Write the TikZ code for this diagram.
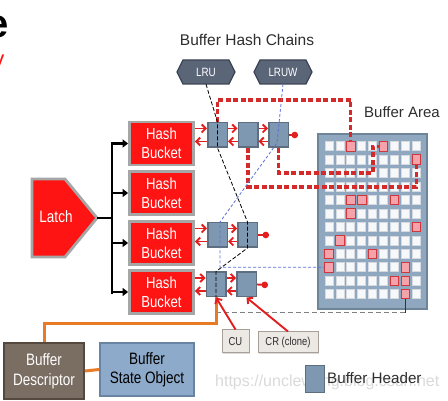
\documentclass[tikz,border=0pt]{standalone}
\usepackage{fontspec}
\setmainfont{Liberation Sans}
\newfontfamily\nfont{Liberation Sans}[FakeStretch=0.82]
\usetikzlibrary{arrows.meta,shadows}
\definecolor{bred}{HTML}{FF1414}
\definecolor{bgray}{HTML}{A6A6A6}
\definecolor{hdrf}{HTML}{7E98B2}
\definecolor{hdrb}{HTML}{5E6E7F}
\definecolor{hexf}{HTML}{5A6578}
\definecolor{hexb}{HTML}{3C4555}
\definecolor{panelf}{HTML}{8FA8BF}
\definecolor{panelb}{HTML}{6E8499}
\definecolor{cellf}{HTML}{F7F8FA}
\definecolor{cellb}{HTML}{D5DAE0}
\definecolor{pinkf}{HTML}{F5A3AA}
\definecolor{pinkb}{HTML}{D0363C}
\definecolor{rdash}{HTML}{D42A2A}
\definecolor{rarrow}{HTML}{E41E1E}
\definecolor{orng}{HTML}{E97A26}
\definecolor{descf}{HTML}{7A6D62}
\definecolor{descb}{HTML}{55493F}
\definecolor{statef}{HTML}{8EAACA}
\definecolor{stateb}{HTML}{6985A3}
\definecolor{cuf}{HTML}{ECE8E4}
\definecolor{cub}{HTML}{A8A098}
\definecolor{bluel}{HTML}{5A6FD8}
\definecolor{tgray}{HTML}{2E2E2E}
\definecolor{wmark}{HTML}{DADADA}
\begin{document}
\begin{tikzpicture}[x=1pt,y=-1pt,
  bucket/.style={draw=bgray,line width=2.8pt,fill=bred,minimum width=64pt,minimum height=43pt,inner sep=0pt,text=white,align=center,font=\nfont\fontsize{16}{19}\selectfont},
  hdr/.style={draw=hdrb,line width=1.5pt,fill=hdrf,minimum width=19.5pt,minimum height=24.5pt,inner sep=0pt},
  hexshape/.style={fill=hexf,draw=hexb,line width=1.2pt},
  hexlabel/.style={inner sep=0pt,minimum width=59pt,minimum height=24pt,text=white,font=\nfont\fontsize{12}{13}\selectfont},
  panel/.style={fill=panelf,draw=panelb,line width=2pt,minimum width=109pt,minimum height=175pt,inner sep=0pt},
  cell/.style={fill=cellf,draw=cellb,line width=0.5pt,minimum width=8pt,minimum height=9pt,inner sep=0pt},
  pcell/.style={fill=pinkf,draw=pinkb,line width=0.8pt,minimum width=8.5pt,minimum height=9.5pt,inner sep=0pt},
  redarr/.style={draw=rarrow,line width=1.9pt,-{Straight Barb[length=4pt,width=8pt]}},
  reddot/.style={draw=rarrow,line width=1.9pt,-{Circle[length=6.5pt,fill=rarrow]}},
  rdl/.style={draw=rdash,line width=3.2pt,dash pattern=on 5pt off 2.5pt},
  bline/.style={draw=black,line width=2.8pt},
  barrow/.style={draw=black,line width=2.8pt,-{Triangle[length=5.5pt,width=8pt]}},
  lrul/.style={draw=black,line width=0.8pt,dash pattern=on 4pt off 2pt},
  grayd/.style={draw=gray,line width=1pt,dash pattern=on 5pt off 3pt},
  lruwl/.style={draw=bluel,line width=0.8pt,dash pattern=on 3pt off 2pt},
  orl/.style={draw=orng,line width=3pt},
  boxtxt/.style={inner sep=0pt,align=center,font=\nfont\fontsize{16.5}{19.5}\selectfont},
  smallbox/.style={fill=cuf,draw=cub,line width=1pt,inner sep=0pt,text=tgray,font=\nfont\fontsize{11.5}{13}\selectfont,drop shadow={shadow xshift=1.2pt,shadow yshift=-1.2pt,fill=gray!55}}
]
\useasboundingbox (0,0) rectangle (448,401);
\clip (0,0) rectangle (448,401);
\fill[white] (0,0) rectangle (448,401);

% cut-off fragments
\node[anchor=base east,inner sep=0pt,font=\bfseries\fontsize{40}{40}\selectfont] (frage) at (8.5,38) {e};
\node[anchor=base east,inner sep=0pt,text=bred,font=\fontsize{22}{22}\selectfont] (fragv) at (4.5,67) {v};

% titles
\node[anchor=base,inner sep=0pt,text=tgray,font=\fontsize{15.5}{18}\selectfont] (title) at (247,46) {Buffer Hash Chains};
\node[anchor=base west,inner sep=0pt,text=tgray,font=\fontsize{15}{18}\selectfont] (areatitle) at (364,118) {Buffer Area};

% LRU / LRUW
\draw[hexshape] (177,72) -- (183,60) -- (229,60) -- (235,72) -- (229,84) -- (183,84) -- cycle;
\node[hexlabel] (lru) at (206,72) {LRU};
\draw[hexshape] (254,72) -- (260,60) -- (306,60) -- (312,72) -- (306,84) -- (260,84) -- cycle;
\node[hexlabel] (lruw) at (283,72) {LRUW};

% Latch
\draw[fill=bred,draw=bgray,line width=2.8pt] (32,179) -- (65,179) -- (97,218) -- (65,257) -- (32,257) -- cycle;
\node[inner sep=0pt,text=white,font=\nfont\fontsize{16.5}{19}\selectfont] (latch) at (56,217) {Latch};
\coordinate (latchtip) at (97,218);
\coordinate (trunk) at (112,218);
\coordinate (bartop) at (112,143);
\coordinate (barbot) at (112,293);

% buckets
\node[bucket] (b1) at (161.5,143.5) {Hash\\Bucket};
\node[bucket] (b2) at (161.5,193) {Hash\\Bucket};
\node[bucket] (b3) at (161.5,243) {Hash\\Bucket};
\node[bucket] (b4) at (161.5,292) {Hash\\Bucket};

\draw[bline] (latchtip) -- (trunk);
\draw[bline,line cap=rect] (bartop) -- (barbot);
\foreach \b in {b1,b2,b3,b4} \draw[barrow] (bartop |- \b.west) -- (\b.west);

% buffer area
\node[panel] (area) at (372.5,221.5) {};
\foreach \r in {0,...,11}
  \foreach \c in {0,...,8}
    \node[cell] (c-\r-\c) at ({328.8+\c*10.95},{146.2+\r*13.45}) {};

% buffer headers
\node[hdr] (h11) at (217.5,135) {};
\node[hdr] (h12) at (248,135) {};
\node[hdr] (h13) at (278.5,135) {};
\node[hdr] (h31) at (217.5,235) {};
\node[hdr] (h32) at (247.5,235) {};
\node[hdr] (h41) at (216,284.5) {};
\node[hdr] (h42) at (246.5,284.5) {};

% red dashed links into buffer area
\coordinate (y100) at (0,100);
\coordinate (y173) at (0,173);
\coordinate (y187) at (0,187);
\coordinate (x373) at (373,0);
\draw[rdl] (h11.north) -- (h11.north |- y100) -- (c-0-2.north |- y100) -- (c-0-2.north);
\draw[rdl] (h13.south) -- (h13.south |- y173) -- (x373 |- y173) -- (x373 |- c-0-5.west) -- (c-0-5.west);
\draw[rdl] (h12.south) -- (h12.south |- y187) -- (c-1-8.south |- y187) -- (c-1-8.south);

% pink cells
\foreach \r/\c in {0/2,0/5,1/8,4/2,4/3,4/6,5/2,6/8,7/1,8/0,8/4,9/0,9/7,10/6,10/7,11/7}
  \node[pcell] (p-\r-\c) at (c-\r-\c) {};

% chain arrows
\foreach \a/\b in {b1/h11,h11/h12,h12/h13,b3/h31,h31/h32,b4/h41,h41/h42}{
  \coordinate (u) at ([yshift=6.5pt]\b.west);
  \coordinate (l) at ([yshift=-6.5pt]\b.west);
  \draw[redarr] (u -| \a.east) -- (u);
  \draw[redarr] (l) -- (l -| \a.east);
}
\coordinate (d13) at (298,135);
\coordinate (d32) at (269,235);
\coordinate (d42) at (268,285);
\draw[reddot] (h13.east) -- (d13);
\draw[reddot] (h32.east) -- (d32);
\draw[reddot] (h42.east) -- (d42);

% LRU chain (black dashed)
\coordinate (g1) at (216,313);
\draw[lrul] (lru.south) -- (h11.north) -- (h11.south) -- (h32.north) -- (h32.south) -- (h41.north) -- (h41.south) -- (g1);
\draw[grayd] (g1) -- (c-11-7.south |- g1);
\draw[draw=black!80,line width=0.8pt] (c-11-7.south |- g1) -- (c-11-7.south);

% LRUW chain (blue dashed)
\coordinate (bw1) at (277,143);
\coordinate (bw2) at (220,222);
\draw[lruwl] (lruw.south) -- (bw1) -- (bw2) -- (bw2 |- c-9-0.west) -- (c-9-0.west);

% descriptor / state object
\node[fill=descf,draw=descb,line width=2pt,minimum width=80pt,minimum height=56pt,boxtxt,text=white] (desc) at (44,371) {Buffer\\Descriptor};
\node[fill=statef,draw=stateb,line width=2pt,minimum width=94pt,minimum height=53pt,boxtxt,text=black] (state) at (147,369.5) {Buffer\\State Object};
\draw[orl] (desc.east) -- (state.west);
\coordinate (oy) at (0,324);
\draw[orl] (desc.north) -- (desc.north |- oy) -- (h41.south |- oy) -- (h41.south);

% CU / CR
\node[smallbox,minimum width=27pt,minimum height=23pt] (cu) at (235.5,341.5) {CU};
\node[smallbox,minimum width=60pt,minimum height=21pt] (cr) at (288,342.5) {CR (clone)};
\draw[redarr] (cu.north) -- (h41.south);
\draw[redarr] (cr.north) -- (h42.south);

% watermark
\node[anchor=base west,inner sep=0pt,text=wmark,font=\fontsize{16}{18}\selectfont] (wm) at (215,387) {https://unclewang.blog.csdn.net};

% legend
\node[hdr,minimum width=19pt,minimum height=27pt] (leg) at (315,379) {};
\node[anchor=base west,inner sep=0pt,text=tgray,font=\fontsize{15.2}{18}\selectfont] (legtxt) at (327,384) {Buffer Header};
\end{tikzpicture}
\end{document}
